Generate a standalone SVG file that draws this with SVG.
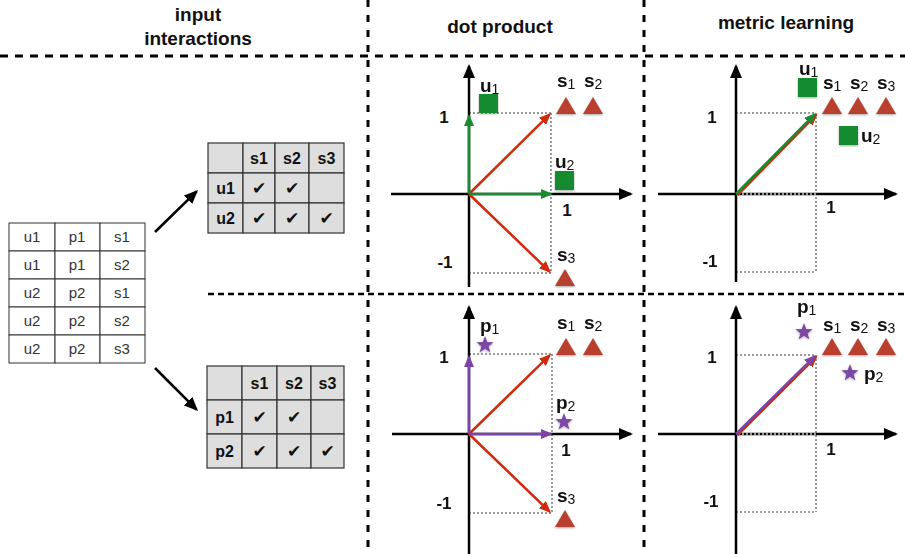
<svg xmlns="http://www.w3.org/2000/svg" xmlns:xlink="http://www.w3.org/1999/xlink" width="905" height="554" viewBox="0 0 905 554">
  <style>
    text { font-family: "Liberation Sans", Arial, sans-serif; }
    .head { font-size: 19px; font-weight: bold; fill: #111; text-anchor: middle; }
    .sep { stroke: #000; fill: none; }
    .cell { fill: #fff; stroke: #333; stroke-width: 1; }
    .mcell { fill: #dedede; stroke: #333; stroke-width: 1.2; }
    .ct { font-size: 15px; fill: #333; text-anchor: middle; }
    .mt { font-size: 16px; font-weight: bold; fill: #111; text-anchor: middle; }
    .chk { font-family: "DejaVu Sans", sans-serif; font-size: 17px; fill: #111; text-anchor: middle; }
    .axis { stroke: #000; stroke-width: 2.5; fill: none; }
    .guide { stroke: #9a9a9a; stroke-width: 2; stroke-dasharray: 2 2; fill: none; }
    .vg { stroke: #1b8a2e; stroke-width: 2.5; fill: none; }
    .vr { stroke: #d0290b; stroke-width: 2.5; fill: none; }
    .vp { stroke: #7b44a6; stroke-width: 2.5; fill: none; }
    .num { font-size: 17px; font-weight: bold; fill: #111; text-anchor: middle; }
    .lbl { font-size: 19px; font-weight: bold; fill: #111; }
    .sub { font-size: 14px; font-weight: normal; }
    .tri { fill: #b9402e; }
    .sq { fill: #138a2f; }
    .star { fill: #7b47a5; }
  </style>
  <defs>
    <marker id="ah-black" markerUnits="userSpaceOnUse" markerWidth="14" markerHeight="12" refX="12" refY="6" orient="auto">
      <path d="M0,0 L14,6 L0,12 z" fill="#000"/>
    </marker>
    <marker id="ah-green" markerUnits="userSpaceOnUse" markerWidth="12" markerHeight="10" refX="10" refY="5" orient="auto">
      <path d="M0,0 L12,5 L0,10 z" fill="#1b8a2e"/>
    </marker>
    <marker id="ah-red" markerUnits="userSpaceOnUse" markerWidth="12" markerHeight="10" refX="10" refY="5" orient="auto">
      <path d="M0,0 L12,5 L0,10 z" fill="#d0290b"/>
    </marker>
    <marker id="ah-purple" markerUnits="userSpaceOnUse" markerWidth="12" markerHeight="10" refX="10" refY="5" orient="auto">
      <path d="M0,0 L12,5 L0,10 z" fill="#7b44a6"/>
    </marker>
    <filter id="soft" x="-30%" y="-30%" width="160%" height="170%">
      <feDropShadow dx="0" dy="1" stdDeviation="1" flood-color="#000" flood-opacity="0.35"/>
    </filter>
    <polygon id="tri" class="tri" points="0,0 10,17 -10,17"/>
    <rect id="sq" class="sq" width="19" height="19"/>
    <polygon id="star" class="star" points="0,-9 2.23,-3.07 8.56,-2.78 3.61,1.17 5.29,7.28 0,3.8 -5.29,7.28 -3.61,1.17 -8.56,-2.78 -2.23,-3.07"/>
  </defs>

  <rect width="905" height="554" fill="#fff"/>

  <!-- column headings -->
  <g id="headings">
    <text class="head" x="198" y="21">input</text>
    <text class="head" x="198" y="45">interactions</text>
    <text class="head" x="500" y="33">dot product</text>
    <text class="head" x="786" y="29">metric learning</text>
  </g>

  <!-- dashed grid separating the panels -->
  <g id="grid">
    <line class="sep" x1="0" y1="56" x2="905" y2="56" stroke-width="3" stroke-dasharray="8 7"/>
    <line class="sep" x1="368" y1="0" x2="368" y2="554" stroke-width="3" stroke-dasharray="7 8"/>
    <line class="sep" x1="644" y1="0" x2="644" y2="554" stroke-width="3" stroke-dasharray="7 8"/>
    <line class="sep" x1="208" y1="294" x2="905" y2="294" stroke-width="2.5" stroke-dasharray="6 4"/>
  </g>

  <!-- raw interaction triples -->
  <g id="triples">
    <rect class="cell" x="9" y="223" width="46" height="28"/>
    <rect class="cell" x="55" y="223" width="45" height="28"/>
    <rect class="cell" x="100" y="223" width="45" height="28"/>
    <rect class="cell" x="9" y="251" width="46" height="28"/>
    <rect class="cell" x="55" y="251" width="45" height="28"/>
    <rect class="cell" x="100" y="251" width="45" height="28"/>
    <rect class="cell" x="9" y="279" width="46" height="28"/>
    <rect class="cell" x="55" y="279" width="45" height="28"/>
    <rect class="cell" x="100" y="279" width="45" height="28"/>
    <rect class="cell" x="9" y="307" width="46" height="28"/>
    <rect class="cell" x="55" y="307" width="45" height="28"/>
    <rect class="cell" x="100" y="307" width="45" height="28"/>
    <rect class="cell" x="9" y="335" width="46" height="28"/>
    <rect class="cell" x="55" y="335" width="45" height="28"/>
    <rect class="cell" x="100" y="335" width="45" height="28"/>
    <text class="ct" x="32" y="242">u1</text><text class="ct" x="77" y="242">p1</text><text class="ct" x="122" y="242">s1</text>
    <text class="ct" x="32" y="270">u1</text><text class="ct" x="77" y="270">p1</text><text class="ct" x="122" y="270">s2</text>
    <text class="ct" x="32" y="298">u2</text><text class="ct" x="77" y="298">p2</text><text class="ct" x="122" y="298">s1</text>
    <text class="ct" x="32" y="326">u2</text><text class="ct" x="77" y="326">p2</text><text class="ct" x="122" y="326">s2</text>
    <text class="ct" x="32" y="354">u2</text><text class="ct" x="77" y="354">p2</text><text class="ct" x="122" y="354">s3</text>
  </g>

  <!-- user x session matrix -->
  <g id="user-matrix">
    <rect class="mcell" x="208" y="143" width="35" height="30"/>
    <rect class="mcell" x="243" y="143" width="32" height="30"/>
    <rect class="mcell" x="275" y="143" width="34" height="30"/>
    <rect class="mcell" x="309" y="143" width="35" height="30"/>
    <rect class="mcell" x="208" y="173" width="35" height="30"/>
    <rect class="mcell" x="243" y="173" width="32" height="30"/>
    <rect class="mcell" x="275" y="173" width="34" height="30"/>
    <rect class="mcell" x="309" y="173" width="35" height="30"/>
    <rect class="mcell" x="208" y="203" width="35" height="30"/>
    <rect class="mcell" x="243" y="203" width="32" height="30"/>
    <rect class="mcell" x="275" y="203" width="34" height="30"/>
    <rect class="mcell" x="309" y="203" width="35" height="30"/>
    <text class="mt" x="259" y="164">s1</text><text class="mt" x="292" y="164">s2</text><text class="mt" x="326.5" y="164">s3</text>
    <text class="mt" x="225.5" y="194">u1</text>
    <text class="mt" x="225.5" y="224">u2</text>
    <text class="chk" x="259" y="194">✔</text><text class="chk" x="292" y="194">✔</text>
    <text class="chk" x="259" y="224">✔</text><text class="chk" x="292" y="224">✔</text><text class="chk" x="326.5" y="224">✔</text>
  </g>

  <!-- product x session matrix -->
  <g id="product-matrix">
    <rect class="mcell" x="207" y="366" width="35" height="34"/>
    <rect class="mcell" x="242" y="366" width="35" height="34"/>
    <rect class="mcell" x="277" y="366" width="34" height="34"/>
    <rect class="mcell" x="311" y="366" width="33" height="34"/>
    <rect class="mcell" x="207" y="400" width="35" height="34"/>
    <rect class="mcell" x="242" y="400" width="35" height="34"/>
    <rect class="mcell" x="277" y="400" width="34" height="34"/>
    <rect class="mcell" x="311" y="400" width="33" height="34"/>
    <rect class="mcell" x="207" y="434" width="35" height="34"/>
    <rect class="mcell" x="242" y="434" width="35" height="34"/>
    <rect class="mcell" x="277" y="434" width="34" height="34"/>
    <rect class="mcell" x="311" y="434" width="33" height="34"/>
    <text class="mt" x="259.5" y="389">s1</text><text class="mt" x="294" y="389">s2</text><text class="mt" x="327.5" y="389">s3</text>
    <text class="mt" x="224.5" y="423">p1</text>
    <text class="mt" x="224.5" y="457">p2</text>
    <text class="chk" x="259.5" y="423">✔</text><text class="chk" x="294" y="423">✔</text>
    <text class="chk" x="259.5" y="457">✔</text><text class="chk" x="294" y="457">✔</text><text class="chk" x="327.5" y="457">✔</text>
  </g>

  <!-- arrows from the triples to the two matrices -->
  <g id="connectors">
    <line class="axis" x1="155" y1="232" x2="196.6" y2="191.4" marker-end="url(#ah-black)"/>
    <line class="axis" x1="155" y1="368" x2="196.6" y2="409.6" marker-end="url(#ah-black)"/>
  </g>

  <!-- dot product, users -->
  <g id="dot-users">
    <line class="guide" x1="469" y1="113" x2="551" y2="113"/>
    <line class="guide" x1="551" y1="113" x2="551" y2="273"/>
    <line class="guide" x1="469" y1="273" x2="551" y2="273"/>
    <line class="axis" x1="469" y1="287" x2="469" y2="66" marker-end="url(#ah-black)"/>
    <line class="axis" x1="391" y1="194" x2="631" y2="194" marker-end="url(#ah-black)"/>
    <line class="vr" x1="469" y1="194" x2="549.6" y2="114.4" marker-end="url(#ah-red)"/>
    <line class="vr" x1="469" y1="194" x2="549.6" y2="271.6" marker-end="url(#ah-red)"/>
    <line class="vg" x1="469" y1="194" x2="469" y2="116" marker-end="url(#ah-green)"/>
    <line class="vg" x1="469" y1="194" x2="551" y2="194" marker-end="url(#ah-green)"/>
    <text class="num" x="444" y="123">1</text>
    <text class="num" x="445" y="268">-1</text>
    <text class="num" x="567" y="216">1</text>
    <g filter="url(#soft)">
      <use xlink:href="#sq" x="479" y="94"/>
      <use xlink:href="#sq" x="555" y="171"/>
      <use xlink:href="#tri" x="566" y="97"/>
      <use xlink:href="#tri" x="593" y="97"/>
      <use xlink:href="#tri" x="565" y="269"/>
    </g>
    <text class="lbl" x="480" y="92">u<tspan class="sub" dy="2">1</tspan></text>
    <text class="lbl" x="555" y="168">u<tspan class="sub" dy="2">2</tspan></text>
    <text class="lbl" x="557" y="87">s<tspan class="sub" dy="2">1</tspan></text>
    <text class="lbl" x="584" y="87">s<tspan class="sub" dy="2">2</tspan></text>
    <text class="lbl" x="557" y="261">s<tspan class="sub" dy="2">3</tspan></text>
  </g>

  <!-- metric learning, users -->
  <g id="metric-users">
    <line class="guide" x1="736" y1="113" x2="816" y2="113"/>
    <line class="guide" x1="816" y1="113" x2="816" y2="272"/>
    <line class="guide" x1="736" y1="272" x2="816" y2="272"/>
    <line class="axis" x1="736" y1="282" x2="736" y2="66" marker-end="url(#ah-black)"/>
    <line class="axis" x1="658" y1="194" x2="896" y2="194" marker-end="url(#ah-black)"/>
    <line class="guide" x1="738" y1="194" x2="816" y2="194"/>
    <line class="vr" x1="737.5" y1="195" x2="816.1" y2="114.9" marker-end="url(#ah-red)"/>
    <line class="vg" x1="736" y1="194" x2="814.6" y2="114.4" marker-end="url(#ah-green)"/>
    <text class="num" x="712" y="123">1</text>
    <text class="num" x="710" y="267">-1</text>
    <text class="num" x="831" y="213">1</text>
    <g filter="url(#soft)">
      <use xlink:href="#sq" x="798" y="78"/>
      <use xlink:href="#sq" x="839" y="126"/>
      <use xlink:href="#tri" x="832" y="97"/>
      <use xlink:href="#tri" x="858" y="97"/>
      <use xlink:href="#tri" x="886" y="97"/>
    </g>
    <text class="lbl" x="799" y="75">u<tspan class="sub" dy="2">1</tspan></text>
    <text class="lbl" x="823" y="89">s<tspan class="sub" dy="2">1</tspan></text>
    <text class="lbl" x="850" y="89">s<tspan class="sub" dy="2">2</tspan></text>
    <text class="lbl" x="877" y="89">s<tspan class="sub" dy="2">3</tspan></text>
    <text class="lbl" x="861" y="142">u<tspan class="sub" dy="2">2</tspan></text>
  </g>

  <!-- dot product, products -->
  <g id="dot-products">
    <line class="guide" x1="469" y1="354" x2="552" y2="354"/>
    <line class="guide" x1="552" y1="354" x2="552" y2="513"/>
    <line class="guide" x1="469" y1="513" x2="552" y2="513"/>
    <line class="axis" x1="469" y1="554" x2="469" y2="307" marker-end="url(#ah-black)"/>
    <line class="axis" x1="392" y1="434" x2="631" y2="434" marker-end="url(#ah-black)"/>
    <line class="vr" x1="469" y1="434" x2="549.6" y2="355.4" marker-end="url(#ah-red)"/>
    <line class="vr" x1="469" y1="434" x2="549.6" y2="511.6" marker-end="url(#ah-red)"/>
    <line class="vp" x1="469" y1="434" x2="469" y2="357" marker-end="url(#ah-purple)"/>
    <line class="vp" x1="469" y1="434" x2="551" y2="434" marker-end="url(#ah-purple)"/>
    <text class="num" x="444" y="363">1</text>
    <text class="num" x="444" y="509">-1</text>
    <text class="num" x="566" y="456">1</text>
    <g filter="url(#soft)">
      <use xlink:href="#star" x="485" y="345"/>
      <use xlink:href="#star" x="564" y="422"/>
      <use xlink:href="#tri" x="566" y="338"/>
      <use xlink:href="#tri" x="593" y="338"/>
      <use xlink:href="#tri" x="565" y="510"/>
    </g>
    <text class="lbl" x="480" y="332">p<tspan class="sub" dy="2">1</tspan></text>
    <text class="lbl" x="556" y="409">p<tspan class="sub" dy="2">2</tspan></text>
    <text class="lbl" x="557" y="329">s<tspan class="sub" dy="2">1</tspan></text>
    <text class="lbl" x="584" y="329">s<tspan class="sub" dy="2">2</tspan></text>
    <text class="lbl" x="557" y="502">s<tspan class="sub" dy="2">3</tspan></text>
  </g>

  <!-- metric learning, products -->
  <g id="metric-products">
    <line class="guide" x1="736" y1="355" x2="816" y2="355"/>
    <line class="guide" x1="816" y1="355" x2="816" y2="512"/>
    <line class="guide" x1="736" y1="512" x2="816" y2="512"/>
    <line class="axis" x1="736" y1="554" x2="736" y2="307" marker-end="url(#ah-black)"/>
    <line class="axis" x1="658" y1="434" x2="896" y2="434" marker-end="url(#ah-black)"/>
    <line class="guide" x1="738" y1="434" x2="816" y2="434"/>
    <line class="vr" x1="737.5" y1="435" x2="816.1" y2="356.9" marker-end="url(#ah-red)"/>
    <line class="vp" x1="736" y1="434" x2="814.6" y2="356.4" marker-end="url(#ah-purple)"/>
    <text class="num" x="712" y="363">1</text>
    <text class="num" x="711" y="507">-1</text>
    <text class="num" x="831" y="455">1</text>
    <g filter="url(#soft)">
      <use xlink:href="#star" x="804" y="332"/>
      <use xlink:href="#star" x="850" y="373"/>
      <use xlink:href="#tri" x="832" y="338"/>
      <use xlink:href="#tri" x="858" y="338"/>
      <use xlink:href="#tri" x="886" y="338"/>
    </g>
    <text class="lbl" x="797" y="313">p<tspan class="sub" dy="2">1</tspan></text>
    <text class="lbl" x="823" y="331">s<tspan class="sub" dy="2">1</tspan></text>
    <text class="lbl" x="850" y="331">s<tspan class="sub" dy="2">2</tspan></text>
    <text class="lbl" x="877" y="331">s<tspan class="sub" dy="2">3</tspan></text>
    <text class="lbl" x="864" y="380">p<tspan class="sub" dy="2">2</tspan></text>
  </g>
</svg>
